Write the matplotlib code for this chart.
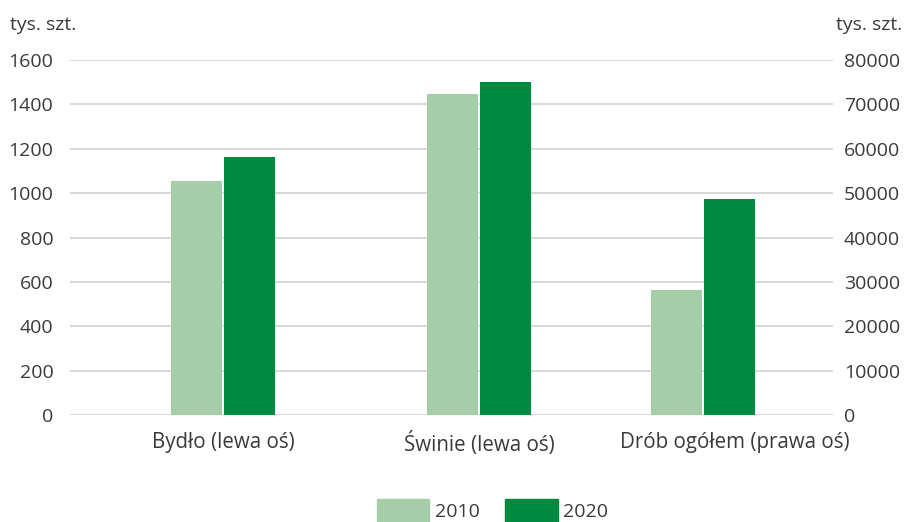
import numpy as np
import matplotlib.pyplot as plt
from matplotlib.patches import Patch

plt.rcParams['font.family'] = ['Open Sans', 'DejaVu Sans']

categories = ['Bydło (lewa oś)', 'Świnie (lewa oś)', 'Drób ogółem (prawa oś)']
years = ['2010', '2020']
# left axis (thousand head)
left_2010 = [1055, 1447]
left_2020 = [1163, 1501]
# right axis (thousand head)
right_2010 = [28200]
right_2020 = [48700]

c2010 = '#a5cea8'
c2020 = '#008a40'
txt = '#3a3a3a'
grid = '#d9d9d9'
fs = 14

fig = plt.figure(figsize=(9.19, 5.22), dpi=100)
ax = fig.add_axes([0.0762, 0.205, 0.8302, 0.68])
ax2 = ax.twinx()

w = 0.2
gap = 0.004
x = np.arange(len(categories))
# the poultry pair sits a bit left of its label in the original
x_right = x[2:] - 0.125

ax.bar(x[:2] - w / 2 - gap, left_2010, w, color=c2010, zorder=3)
ax.bar(x[:2] + w / 2 + gap, left_2020, w, color=c2020, zorder=3)
ax2.bar(x_right - w / 2 - gap, right_2010, w, color=c2010, zorder=3)
ax2.bar(x_right + w / 2 + gap, right_2020, w, color=c2020, zorder=3)

ax.set_xlim(-0.598, 2.383)
ax.set_ylim(0, 1600)
ax2.set_ylim(0, 80000)
ax.set_yticks(np.arange(0, 1601, 200))
ax2.set_yticks(np.arange(0, 80001, 10000))
ax.yaxis.grid(True, color=grid, linewidth=1.5, zorder=0)
ax.set_axisbelow(True)

for a in (ax, ax2):
    for s in a.spines.values():
        s.set_visible(False)
    a.tick_params(length=0, labelsize=fs, colors=txt)

ax.tick_params(axis='y', pad=12)
ax2.tick_params(axis='y', pad=8)
ax.set_xticks(x)
ax.set_xticklabels(categories, fontsize=14.8)
ax.tick_params(axis='x', pad=12)

fig.text(10 / 919, 1 - 25 / 522, 'tys. szt.', fontsize=fs, color=txt, va='center', ha='left')
fig.text(836 / 919, 1 - 25 / 522, 'tys. szt.', fontsize=fs, color=txt, va='center', ha='left')

handles = [Patch(color=c2010), Patch(color=c2020)]
fig.legend(handles, years, loc='lower center', bbox_to_anchor=(0.536, -0.035), ncol=2,
           frameon=False, fontsize=fs, labelcolor=txt, handlelength=2.7, handleheight=1.5,
           handletextpad=0.3, columnspacing=1.3)

fig.savefig('out.png', dpi=100)
